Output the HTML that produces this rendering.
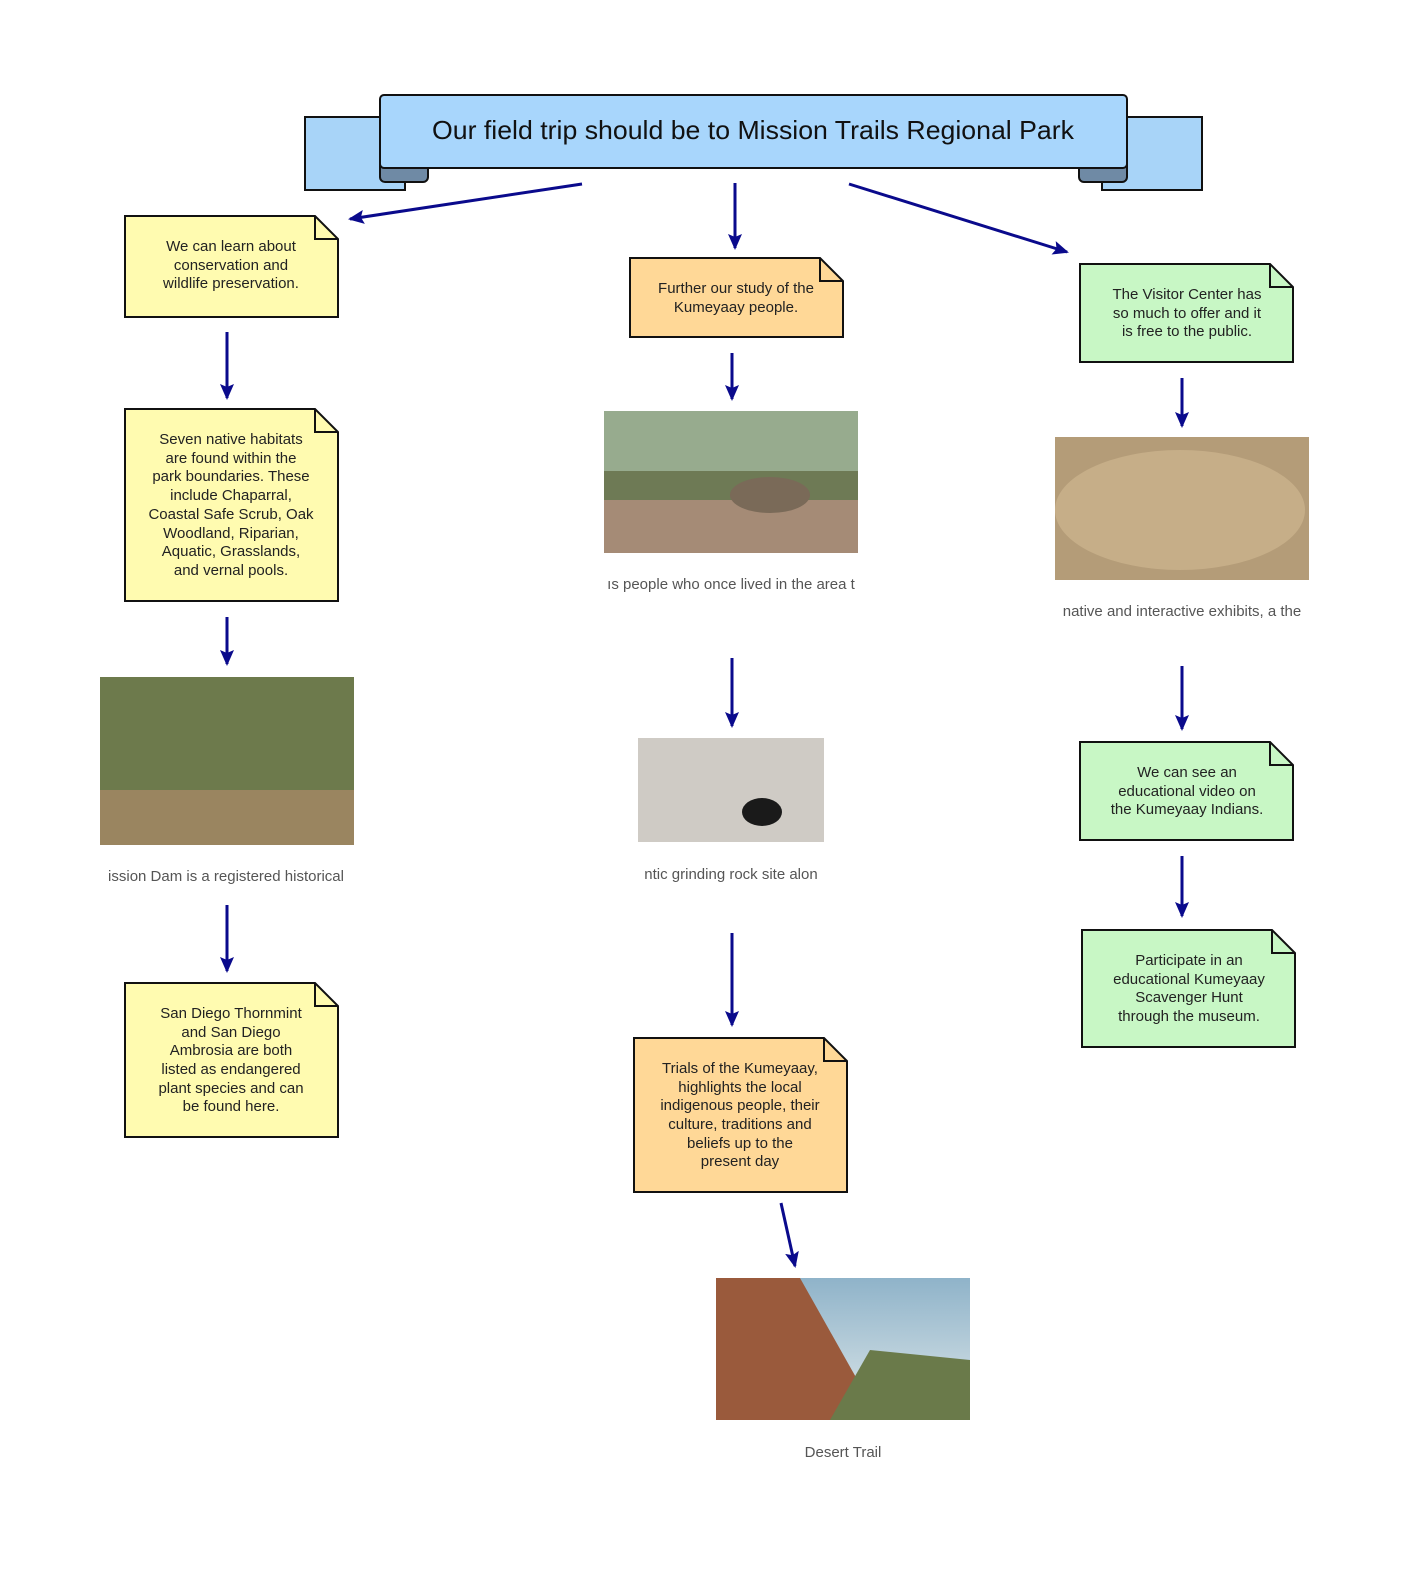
<!DOCTYPE html>
<html><head><meta charset="utf-8"><style>
body{margin:0;background:#fff;}
svg text{font-family:"Liberation Sans",sans-serif;}
</style></head><body>
<svg width="1417" height="1577" xmlns="http://www.w3.org/2000/svg">
<defs>
<marker id="ah" markerWidth="16" markerHeight="14" refX="14" refY="7" orient="auto" markerUnits="userSpaceOnUse" viewBox="0 0 16 14"><path d="M0,0 L16,7 L0,14 L3,7 z" fill="#0a0a8c"/></marker>
<linearGradient id="sky" x1="0" y1="0" x2="0" y2="1"><stop offset="0" stop-color="#8fb3c9"/><stop offset="1" stop-color="#dfe8ea"/></linearGradient>
</defs>
<rect x="305" y="117" width="100" height="73" fill="#a8d4f8" stroke="#111" stroke-width="2"/>
<rect x="1102" y="117" width="100" height="73" fill="#a8d4f8" stroke="#111" stroke-width="2"/>
<rect x="380" y="160" width="48" height="22" rx="5" fill="#6f8aa5" stroke="#111" stroke-width="2"/>
<rect x="1079" y="160" width="48" height="22" rx="5" fill="#6f8aa5" stroke="#111" stroke-width="2"/>
<rect x="380" y="95" width="747" height="73" rx="4" fill="#a8d6fc" stroke="#111" stroke-width="2"/>
<text x="432" y="139" font-size="26" textLength="642" lengthAdjust="spacingAndGlyphs" fill="#111">Our field trip should be to Mission Trails Regional Park</text>
<g stroke="#0a0a8c" stroke-width="3" marker-end="url(#ah)">
<line x1="582" y1="184" x2="350" y2="219"/>
<line x1="735" y1="183" x2="735" y2="248"/>
<line x1="849" y1="184" x2="1067" y2="252"/>
<line x1="227" y1="332" x2="227" y2="398"/>
<line x1="227" y1="617" x2="227" y2="664"/>
<line x1="227" y1="905" x2="227" y2="971"/>
<line x1="732" y1="353" x2="732" y2="399"/>
<line x1="732" y1="658" x2="732" y2="726"/>
<line x1="732" y1="933" x2="732" y2="1025"/>
<line x1="781" y1="1203" x2="795" y2="1266"/>
<line x1="1182" y1="378" x2="1182" y2="426"/>
<line x1="1182" y1="666" x2="1182" y2="729"/>
<line x1="1182" y1="856" x2="1182" y2="916"/>
</g>
<g stroke="#111" stroke-width="2">
<path d="M125,216 H315 L338,239 V317 H125 Z" fill="#fffbb0"/><path d="M315,216 V239 H338" fill="none"/>
<path d="M125,409 H315 L338,432 V601 H125 Z" fill="#fffbb0"/><path d="M315,409 V432 H338" fill="none"/>
<path d="M125,983 H315 L338,1006 V1137 H125 Z" fill="#fffbb0"/><path d="M315,983 V1006 H338" fill="none"/>
<path d="M630,258 H820 L843,281 V337 H630 Z" fill="#ffd897"/><path d="M820,258 V281 H843" fill="none"/>
<path d="M634,1038 H824 L847,1061 V1192 H634 Z" fill="#ffd897"/><path d="M824,1038 V1061 H847" fill="none"/>
<path d="M1080,264 H1270 L1293,287 V362 H1080 Z" fill="#c8f7c5"/><path d="M1270,264 V287 H1293" fill="none"/>
<path d="M1080,742 H1270 L1293,765 V840 H1080 Z" fill="#c8f7c5"/><path d="M1270,742 V765 H1293" fill="none"/>
<path d="M1082,930 H1272 L1295,953 V1047 H1082 Z" fill="#c8f7c5"/><path d="M1272,930 V953 H1295" fill="none"/>
</g>
<g font-size="15" fill="#222" text-anchor="middle">
<text x="231" y="251">We can learn about</text><text x="231" y="270">conservation and</text><text x="231" y="288">wildlife preservation.</text>
<text x="231" y="444">Seven native habitats</text><text x="231" y="463">are found within the</text><text x="231" y="481">park boundaries. These</text><text x="231" y="500">include Chaparral,</text><text x="231" y="519">Coastal Safe Scrub, Oak</text><text x="231" y="538">Woodland, Riparian,</text><text x="231" y="556">Aquatic, Grasslands,</text><text x="231" y="575">and vernal pools.</text>
<text x="231" y="1018">San Diego Thornmint</text><text x="231" y="1037">and San Diego</text><text x="231" y="1055">Ambrosia are both</text><text x="231" y="1074">listed as endangered</text><text x="231" y="1093">plant species and can</text><text x="231" y="1111">be found here.</text>
<text x="736" y="293">Further our study of the</text><text x="736" y="312">Kumeyaay people.</text>
<text x="740" y="1073">Trials of the Kumeyaay,</text><text x="740" y="1092">highlights the local</text><text x="740" y="1110">indigenous people, their</text><text x="740" y="1129">culture, traditions and</text><text x="740" y="1148">beliefs up to the</text><text x="740" y="1166">present day</text>
<text x="1187" y="299">The Visitor Center has</text><text x="1187" y="318">so much to offer and it</text><text x="1187" y="336">is free to the public.</text>
<text x="1187" y="777">We can see an</text><text x="1187" y="796">educational video on</text><text x="1187" y="814">the Kumeyaay Indians.</text>
<text x="1189" y="965">Participate in an</text><text x="1189" y="984">educational Kumeyaay</text><text x="1189" y="1002">Scavenger Hunt</text><text x="1189" y="1021">through the museum.</text>
</g>
<rect x="604" y="411" width="254" height="142" fill="#6e7a55"/>
<rect x="604" y="411" width="254" height="60" fill="#97ab8e"/>
<rect x="604" y="500" width="254" height="53" fill="#a58b76"/>
<ellipse cx="770" cy="495" rx="40" ry="18" fill="#7a6a58"/>
<rect x="1055" y="437" width="254" height="143" fill="#b49c78"/>
<ellipse cx="1180" cy="510" rx="125" ry="60" fill="#c6ae88"/>
<rect x="100" y="677" width="254" height="168" fill="#6d7a4c"/>
<rect x="100" y="790" width="254" height="55" fill="#9a8560"/>
<rect x="638" y="738" width="186" height="104" fill="#cfcbc5"/>
<ellipse cx="762" cy="812" rx="20" ry="14" fill="#1a1a1a"/>
<rect x="716" y="1278" width="254" height="142" fill="url(#sky)"/>
<path d="M716,1278 H800 L880,1420 H716 Z" fill="#9a5a3c"/>
<path d="M830,1420 L870,1350 L970,1360 V1420 Z" fill="#6a7a4a"/>
<g font-size="15" fill="#555" text-anchor="middle">
<text x="731" y="589">ıs people who once lived in the area t</text>
<text x="1182" y="616">native and interactive exhibits, a the</text>
<text x="226" y="881">ission Dam is a registered historical</text>
<text x="731" y="879">ntic grinding rock site alon</text>
<text x="843" y="1457">Desert Trail</text>
</g>
</svg>
</body></html>
